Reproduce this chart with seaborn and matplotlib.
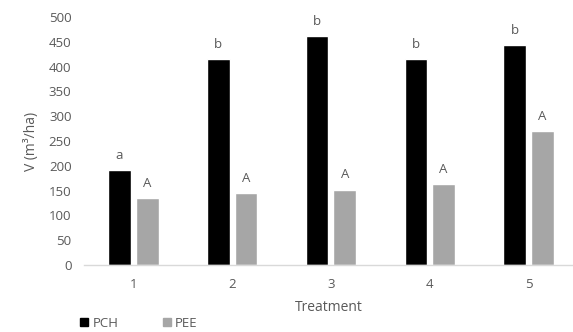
import numpy as np
import pandas as pd
import matplotlib
matplotlib.use("Agg")
import matplotlib.pyplot as plt
import seaborn as sns
from matplotlib.lines import Line2D

# данные
treatments = ["1", "2", "3", "4", "5"]
pch = [191, 415, 462, 415, 443]
pee = [135, 145, 152, 163, 270]
pch_letters = ["a", "b", "b", "b", "b"]
pee_letters = ["A", "A", "A", "A", "A"]

df = pd.DataFrame({
    "Treatment": treatments * 2,
    "V": pch + pee,
    "Sample": ["PCH"] * 5 + ["PEE"] * 5,
})

sns.set_theme(style="white")
plt.rcParams["font.family"] = ["Open Sans", "DejaVu Sans"]
txt = "#595959"

fig = plt.figure(figsize=(5.73, 3.32), dpi=100)
ax = fig.add_axes([84 / 573, 0.2018, 1 - 84 / 573, 0.747])

sns.barplot(data=df, x="Treatment", y="V", hue="Sample",
            palette={"PCH": "black", "PEE": "#a6a6a6"},
            width=0.56, gap=0.18, ax=ax, legend=False, saturation=1)

# буквы над столбцами
for i in range(5):
    ax.annotate(pch_letters[i], (i - 0.14, pch[i]), xytext=(0, 6),
                textcoords="offset points", ha="center", va="bottom",
                fontsize=9.5, color=txt)
    ax.annotate(pee_letters[i], (i + 0.14, pee[i]), xytext=(0, 6),
                textcoords="offset points", ha="center", va="bottom",
                fontsize=9.5, color=txt)

ax.set_ylim(0, 500)
ax.set_xlim(-0.5, 4.45)
ax.set_yticks(range(0, 501, 50))
ax.set_xlabel("Treatment", fontsize=10, color=txt, labelpad=7)
ax.set_ylabel("V (m³/ha)", fontsize=10, color=txt, labelpad=7)
ax.tick_params(axis="both", length=0, labelsize=9.5, labelcolor=txt)
ax.tick_params(axis="y", pad=9)
ax.tick_params(axis="x", pad=9)
for s in ["top", "right", "left"]:
    ax.spines[s].set_visible(False)
ax.spines["bottom"].set_color("#d9d9d9")
ax.spines["bottom"].set_linewidth(1)

handles = [Line2D([], [], marker="s", ls="", color="black", markersize=5.5),
           Line2D([], [], marker="s", ls="", color="#a6a6a6", markersize=5.5)]
fig.legend(handles, ["PCH", "PEE"], loc="lower left", bbox_to_anchor=(0.115, -0.03),
           ncol=2, frameon=False, fontsize=9.5, labelcolor=txt,
           handletextpad=0.1, columnspacing=3.2, handlelength=1)

fig.savefig("out.png", dpi=100)
